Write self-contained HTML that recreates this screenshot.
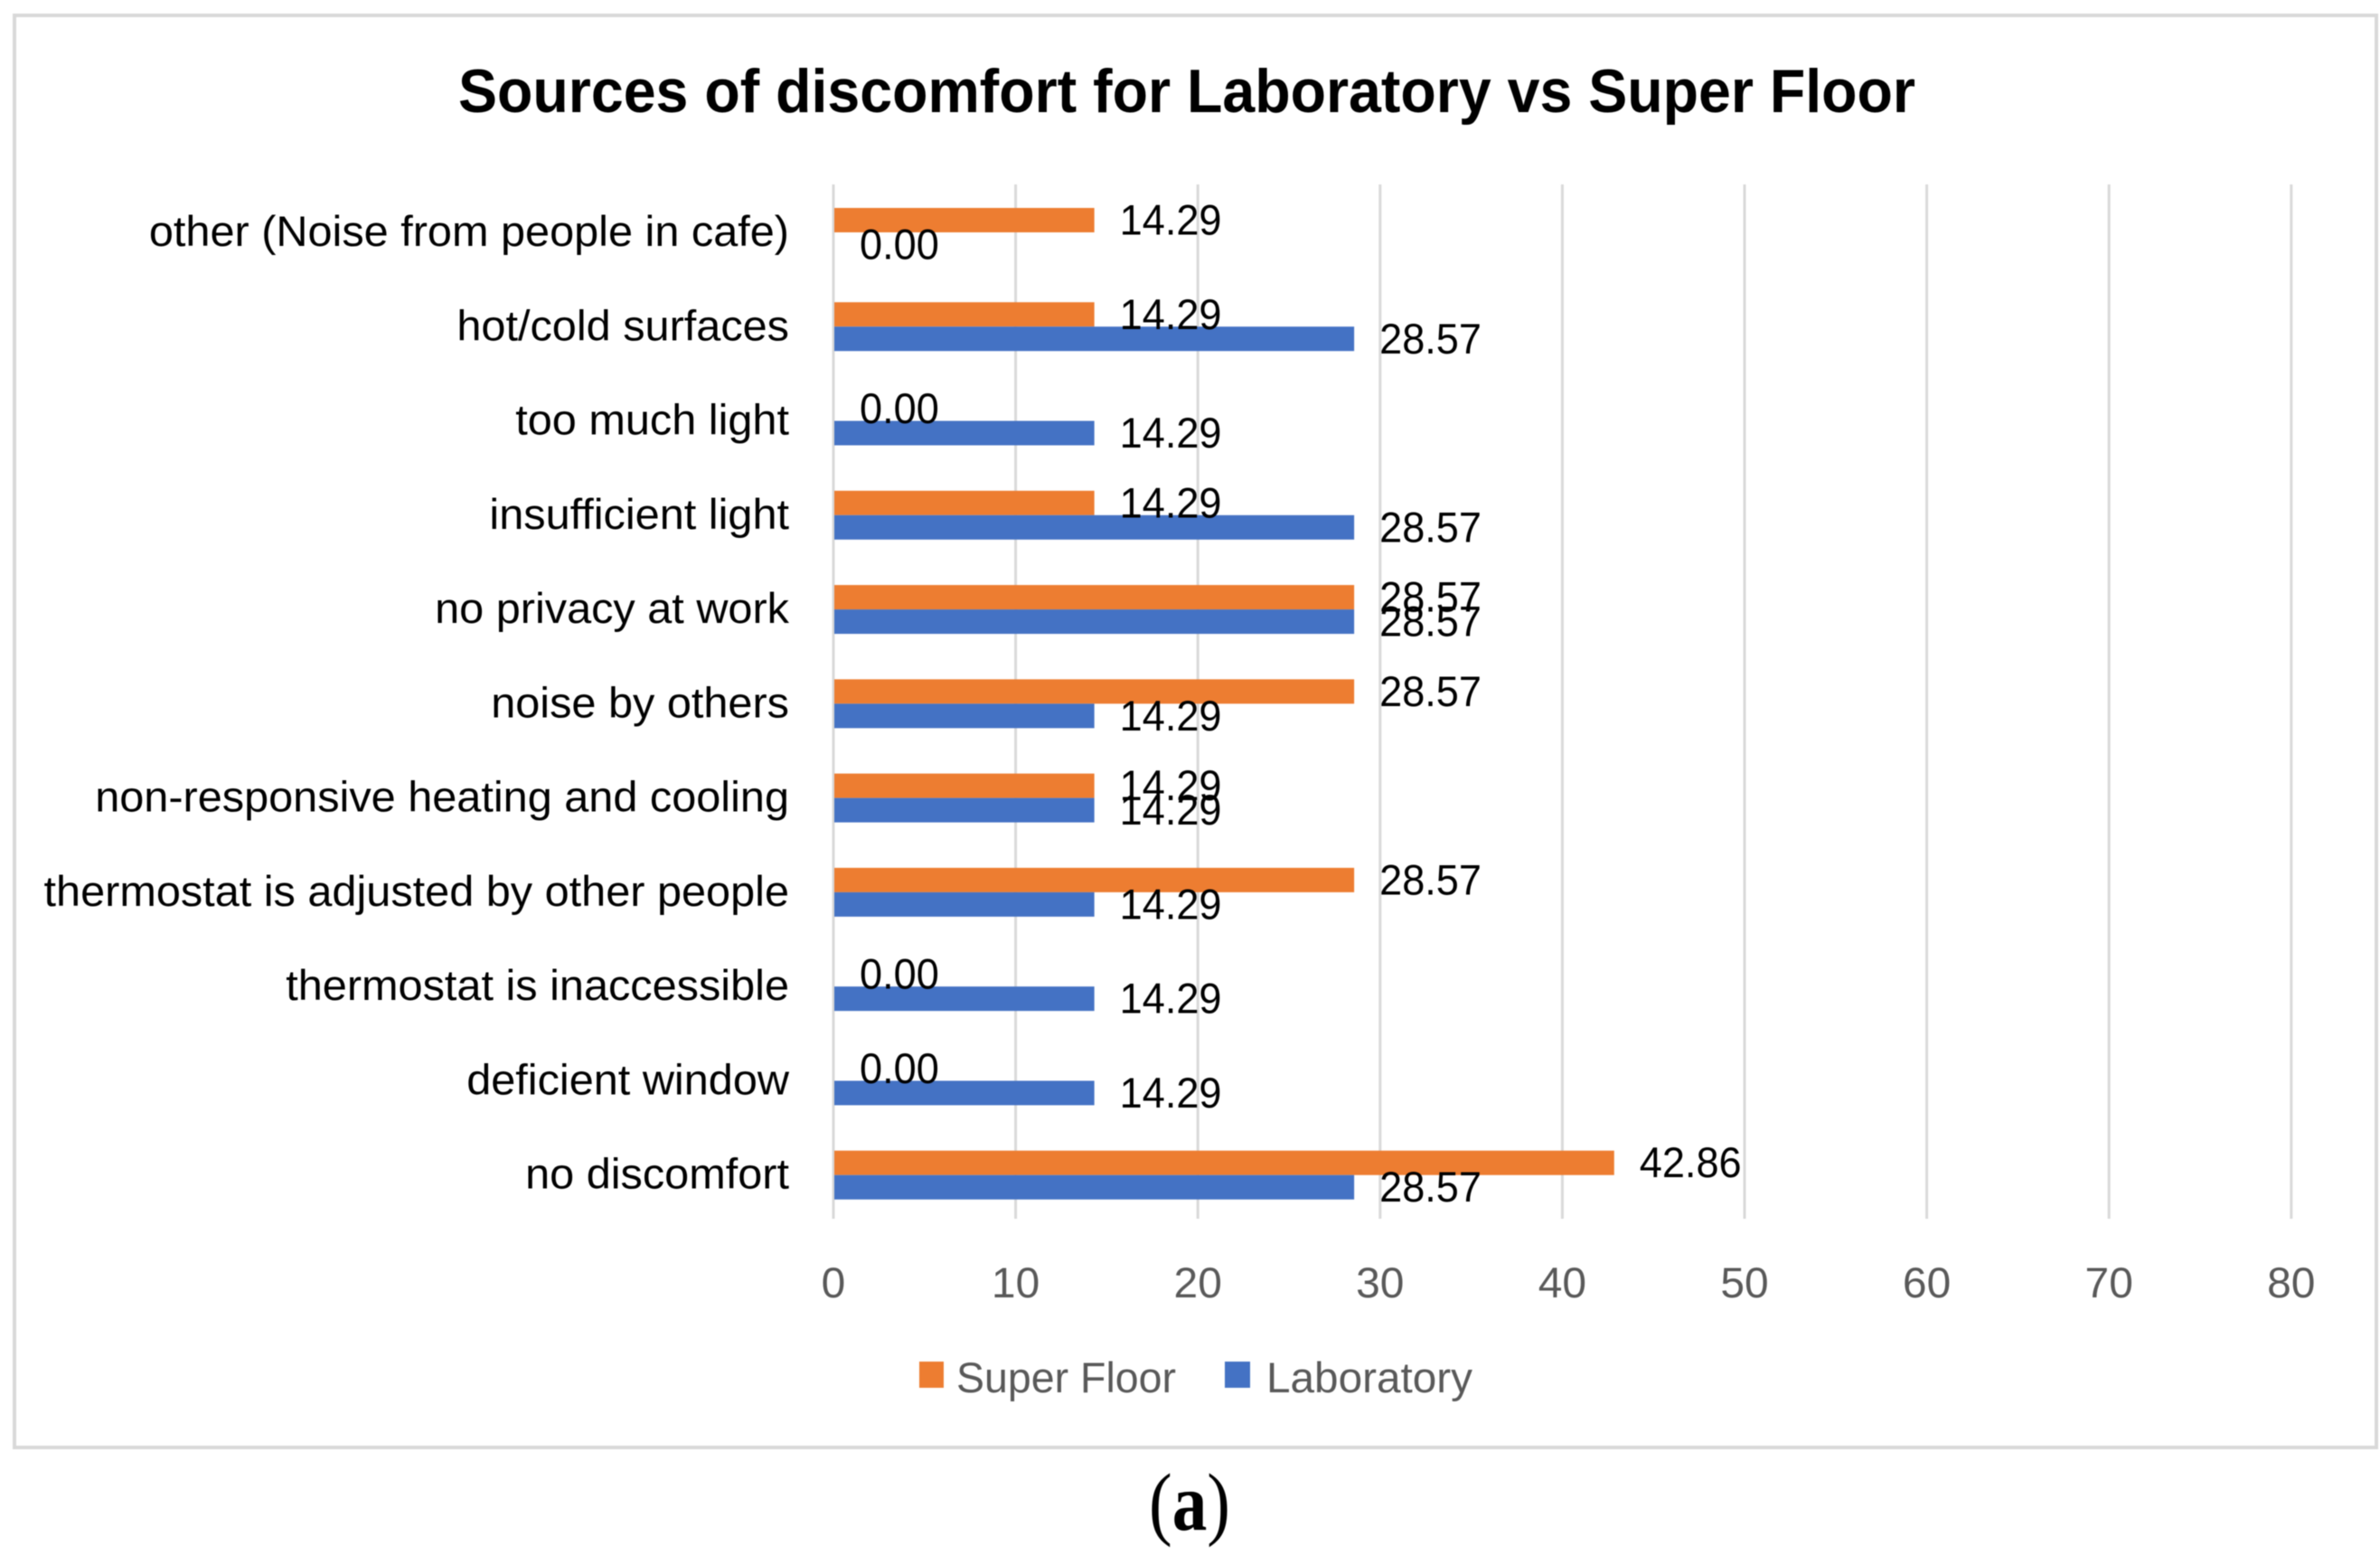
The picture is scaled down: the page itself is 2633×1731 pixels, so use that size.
<!DOCTYPE html>
<html><head><meta charset="utf-8"><title>Sources of discomfort for Laboratory vs Super Floor</title>
<style>
html,body{margin:0;padding:0;background:#fff;width:2633px;height:1731px;overflow:hidden}
svg{display:block;font-family:"Liberation Sans",sans-serif;filter:blur(0.6px)}
</style></head>
<body>
<svg id="chart" xmlns="http://www.w3.org/2000/svg" width="2633" height="1731" viewBox="0 0 2633 1731">
<rect x="16" y="17" width="2613" height="1584" fill="#fff" stroke="#d9d9d9" stroke-width="4"/>
<g id="grid"></g><g id="bars"></g><g id="cats"></g><g id="ticks"></g><g id="vals"></g>
<text x="507" y="124" font-size="68" font-weight="bold" fill="#000" textLength="1612" lengthAdjust="spacingAndGlyphs">Sources of discomfort for Laboratory vs Super Floor</text>
<rect x="1017" y="1506" width="27" height="29" fill="#ed7d31"/>
<text x="1058" y="1540" font-size="47" fill="#595959" textLength="243" lengthAdjust="spacingAndGlyphs">Super Floor</text>
<rect x="1355" y="1506" width="28" height="29" fill="#4472c4"/>
<text x="1401" y="1540" font-size="47" fill="#595959" textLength="228" lengthAdjust="spacingAndGlyphs">Laboratory</text>
<text x="1271" y="1692" font-size="90" fill="#000" font-family="Liberation Serif, serif" textLength="90" lengthAdjust="spacingAndGlyphs">(<tspan font-weight="bold">a</tspan>)</text>
</svg>
<script>
var categories = ["other (Noise from people in cafe)","hot/cold surfaces","too much light","insufficient light","no privacy at work","noise by others","non-responsive heating and cooling","thermostat is adjusted by other people","thermostat is inaccessible","deficient window","no discomfort"];
var superFloor = [14.29,14.29,0,14.29,28.57,28.57,14.29,28.57,0,0,42.86];
var laboratory = [0,28.57,14.29,28.57,28.57,14.29,14.29,14.29,14.29,14.29,28.57];
var xTicks = [0,10,20,30,40,50,60,70,80];

var NS = "http://www.w3.org/2000/svg";
function barX(v){ return 923 + v * 20.13; }
function tickX(v){ return 922 + v * 20.16; }
function rowY(i){ return 257 + i * 104.27; }
function el(parent, tag, attrs, txt){
  var e = document.createElementNS(NS, tag);
  for (var k in attrs) e.setAttribute(k, attrs[k]);
  if (txt !== undefined) e.textContent = txt;
  parent.appendChild(e);
  return e;
}
function squeezed(parent, x, y, size, fill, anchor, sx, txt){
  return el(parent, "text", {transform:"translate("+x+","+y+") scale("+sx+",1)", "font-size":size, fill:fill, "text-anchor":anchor}, txt);
}
var grid = document.getElementById("grid"), bars = document.getElementById("bars"),
    cats = document.getElementById("cats"), ticks = document.getElementById("ticks"), vals = document.getElementById("vals");

xTicks.forEach(function(t){
  var g = el(grid, "line", {x1:tickX(t), x2:tickX(t), y1:204, y2:1348, stroke:"#d9d9d9", "stroke-width":3});
  
  
  var l = squeezed(ticks, tickX(t), 1435, 47, "#595959", "middle", 1.02, String(t));
  
  
});
categories.forEach(function(c, i){
  var y = rowY(i), h = 27;
  var lab = squeezed(cats, 873, y + 15, 47, "#000", "end", 1.035, c);
  
  
  var o = el(bars, "rect", {x:barX(0), y:y-h, width:barX(superFloor[i])-barX(0), height:h, fill:"#ed7d31"});
  
  
  var b = el(bars, "rect", {x:barX(0), y:y, width:barX(laboratory[i])-barX(0), height:h, fill:"#4472c4"});
  
  
  var ov = squeezed(vals, barX(superFloor[i]) + 28, y - 13.5 + 16, 47, "#000", "start", 0.96, superFloor[i].toFixed(2));
  
  
  var bv = squeezed(vals, barX(laboratory[i]) + 28, y + 13.5 + 16, 47, "#000", "start", 0.96, laboratory[i].toFixed(2));
  
  
});
</script>
</body></html>
